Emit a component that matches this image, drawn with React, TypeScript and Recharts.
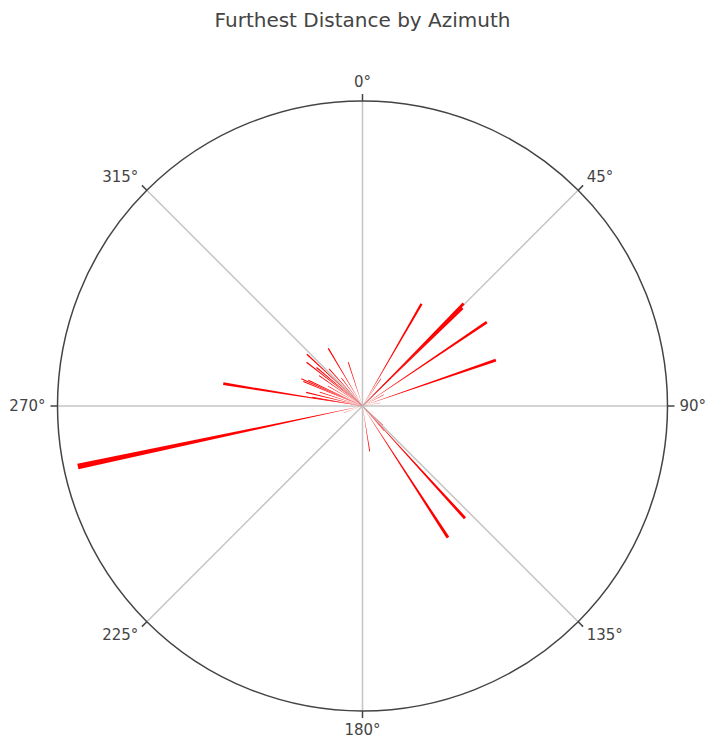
import { PieChart, Pie, Cell, PolarGrid, PolarAngleAxis } from 'recharts';

// azimuth in degrees (0 = north, clockwise) and furthest distance for each bar
const azimuths = [
  30, 34, 44.6, 45, 45.6, 56, 62, 71, 80,
  120, 133, 137.6, 139, 147, 171,
  250, 258,
  279.1, 280, 283.6, 288, 292.5, 294, 295.5, 300, 305, 308, 310, 313, 318, 323, 329.3, 342,
];
const distances = [
  118, 33, 144, 40, 140, 150, 24, 141, 18,
  15, 28, 152, 33, 157, 46,
  20, 291,
  141, 51, 58, 45, 64, 67, 60, 40, 53, 71, 60, 76, 50, 35, 67, 46,
];
const angleTicks = [0, 45, 90, 135, 180, 225, 270, 315];

const RADIAL_MAX = 305;
const BAR_WIDTH = 1.1; // degrees
const W = 707;
const H = 738;
const CX = 362.5;
const CY = 406;
const R = 305;
const TICK = 7;

const bars = azimuths.map((az, i) => {
  const start = az - BAR_WIDTH / 2;
  return {
    key: i,
    outer: (distances[i] / RADIAL_MAX) * R,
    slices: [
      { name: 'gap', v: start },
      { name: 'bar', v: BAR_WIDTH },
      { name: 'gap', v: 360 - start - BAR_WIDTH },
    ],
  };
});

const AngleTick = (props: any) => {
  const { x, y, payload } = props;
  const dx = x - CX;
  const dy = y - CY;
  const len = Math.sqrt(dx * dx + dy * dy) || 1;
  const ux = dx / len;
  const uy = dy / len;
  const px = x + ux * 5;
  const py = y + uy * 5 + uy * 7;
  const anchor = ux > 0.01 ? 'start' : ux < -0.01 ? 'end' : 'middle';
  return (
    <text x={px} y={py} textAnchor={anchor} dominantBaseline="central" fill="#444" fontSize={15} fontFamily="DejaVu Sans">
      {payload.value}°
    </text>
  );
};

export default function App() {
  return (
    <div style={{ position: 'absolute', top: 0, left: 0, width: W, height: H, fontFamily: 'DejaVu Sans' }}>
      <div
        style={{
          position: 'absolute',
          top: 8,
          left: CX,
          transform: 'translateX(-50%)',
          whiteSpace: 'nowrap',
          fontSize: 20,
          lineHeight: '24px',
          color: '#444',
        }}
      >
        Furthest Distance by Azimuth
      </div>
      <PieChart
        width={W}
        height={H}
        cx={CX}
        cy={CY}
        innerRadius={0}
        outerRadius={R}
        startAngle={90}
        endAngle={-270}
        margin={{ top: 0, right: 0, bottom: 0, left: 0 }}
      >
        <PolarGrid
          gridType="circle"
          polarAngles={angleTicks.map((a) => 90 - a)}
          polarRadius={[]}
          stroke="#c4c4c4"
          strokeWidth={1.5}
        />
        {bars.map((b) => (
          <Pie
            key={b.key}
            data={b.slices}
            dataKey="v"
            cx={CX}
            cy={CY}
            innerRadius={0}
            outerRadius={b.outer}
            startAngle={90}
            endAngle={-270}
            stroke="none"
            label={false}
            labelLine={false}
            isAnimationActive={false}
          >
            {b.slices.map((s, j) => (
              <Cell key={j} fill={s.name === 'bar' ? '#ff0000' : 'none'} />
            ))}
          </Pie>
        ))}
        <PolarAngleAxis
          type="number"
          dataKey="v"
          domain={[0, 360]}
          ticks={angleTicks as any}
          axisLineType="circle"
          axisLine={{ stroke: '#444', strokeWidth: 1.5 }}
          tickLine={{ stroke: '#444', strokeWidth: 1.5 }}
          tickSize={TICK}
          tick={AngleTick}
        />
      </PieChart>
    </div>
  );
}
